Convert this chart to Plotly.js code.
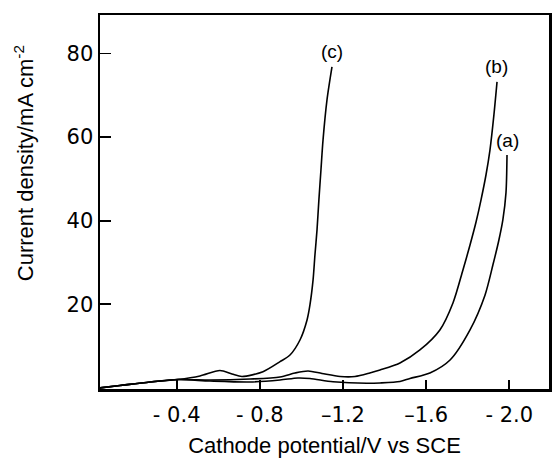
<!DOCTYPE html>
<html>
<head>
<meta charset="utf-8">
<script src="https://cdn.plot.ly/plotly-3.0.1.min.js"></script>
<style>html,body{margin:0;padding:0;background:#fff;}#chart{width:552px;height:464px;}</style>
</head>
<body>
<div id="chart"></div>
<script>
// Cathode potential (V vs SCE) and current density (mA cm^-2)
const potA = [-0.026,-0.127,-0.272,-0.406,-0.560,-0.753,-0.897,-0.983,-1.041,-1.152,-1.314,-1.378,-1.474,-1.522,-1.618,-1.715,-1.811,-1.883,-1.921,-1.950,-1.969,-1.984,-1.989];
const curA = [0,0.6,1.44,2.03,1.67,1.44,1.91,2.39,2.27,1.51,1.12,1.20,1.56,2.27,3.59,6.70,13.9,22.2,29.4,35.4,40.2,46.65,55.74];

const potB = [-0.026,-0.127,-0.272,-0.406,-0.560,-0.753,-0.897,-0.969,-1.032,-1.099,-1.186,-1.258,-1.329,-1.378,-1.474,-1.570,-1.666,-1.729,-1.777,-1.811,-1.840,-1.864,-1.888,-1.907,-1.926,-1.941];
const curB = [0,0.6,1.44,2.03,1.91,2.15,2.63,3.59,4.07,3.47,2.75,2.75,3.59,4.31,5.98,9.09,13.88,20.33,28.23,34.2,39.7,45.0,51.0,56.9,65.3,73.2];

const potC = [-0.026,-0.127,-0.272,-0.406,-0.512,-0.608,-0.666,-0.714,-0.815,-0.897,-0.945,-0.993,-1.027,-1.041,-1.056,-1.065,-1.075,-1.084,-1.094,-1.104,-1.123,-1.147];
const curC = [0,0.6,1.44,2.03,2.87,4.19,3.35,2.75,3.90,6.29,7.89,11.48,16.27,19.86,25.84,31.8,37.8,45.0,52.2,59.33,68.90,76.79];

const xTickVals = [-0.4,-0.8,-1.2,-1.6,-2.0];
const xTickText = ['- 0.4','- 0.8','\u20131.2','\u20131.6','- 2.0'];
const yTickVals = [20,40,60,80];

const curveLabels = ['(a)','(b)','(c)'];
const labelPot = [-1.990,-1.940,-1.146];
const labelCur = [59.3,77.0,80.4];

const lineStyle = {color:'#000', width:1.6, shape:'spline', smoothing:0.8};
const traces = [
  {x:potA, y:curA, mode:'lines', line:lineStyle, name:'(a)', hoverinfo:'x+y'},
  {x:potB, y:curB, mode:'lines', line:lineStyle, name:'(b)', hoverinfo:'x+y'},
  {x:potC, y:curC, mode:'lines', line:lineStyle, name:'(c)', hoverinfo:'x+y'}
];

const annotations = curveLabels.map((t,i)=>({
  x:labelPot[i], y:labelCur[i], xref:'x', yref:'y', text:t, showarrow:false,
  font:{family:'Liberation Sans, Arial, sans-serif', size:19, color:'#000'},
  xanchor:'center', yanchor:'middle'
}));
annotations.push({
  xref:'paper', yref:'paper', x:-0.169, y:0.604, textangle:-90,
  text:'Current density/mA cm<sup>-2</sup>', showarrow:false,
  font:{family:'Liberation Sans, Arial, sans-serif', size:22, color:'#000'},
  xanchor:'center', yanchor:'middle'
});

const layout = {
  width:552, height:464,
  margin:{l:100, r:3, t:15, b:75},
  paper_bgcolor:'#fff', plot_bgcolor:'#fff',
  showlegend:false,
  font:{family:'Liberation Sans, Arial, sans-serif', color:'#000'},
  xaxis:{
    range:[-0.031,-2.191],
    tickmode:'array', tickvals:xTickVals, ticktext:xTickText,
    ticks:'inside', ticklen:9, tickwidth:1.8, tickcolor:'#000',
    showline:true, linewidth:2.5, linecolor:'#000', mirror:true,
    showgrid:false, zeroline:false,
    tickfont:{family:'DejaVu Sans, sans-serif', size:21, color:'#000'},
    ticklabelstandoff:5,
    title:{text:'Cathode potential/V vs SCE', standoff:12,
      font:{family:'Liberation Sans, Arial, sans-serif', size:22, color:'#000'}}
  },
  yaxis:{
    range:[-0.24,89.2],
    tickmode:'array', tickvals:yTickVals,
    ticks:'inside', ticklen:11, tickwidth:1.8, tickcolor:'#000',
    showline:true, linewidth:2.5, linecolor:'#000', mirror:true,
    showgrid:false, zeroline:false,
    tickfont:{family:'DejaVu Sans, sans-serif', size:21, color:'#000'}
  },
  annotations:annotations
};

Plotly.newPlot('chart', traces, layout, {staticPlot:true, displayModeBar:false});
</script>
</body>
</html>
